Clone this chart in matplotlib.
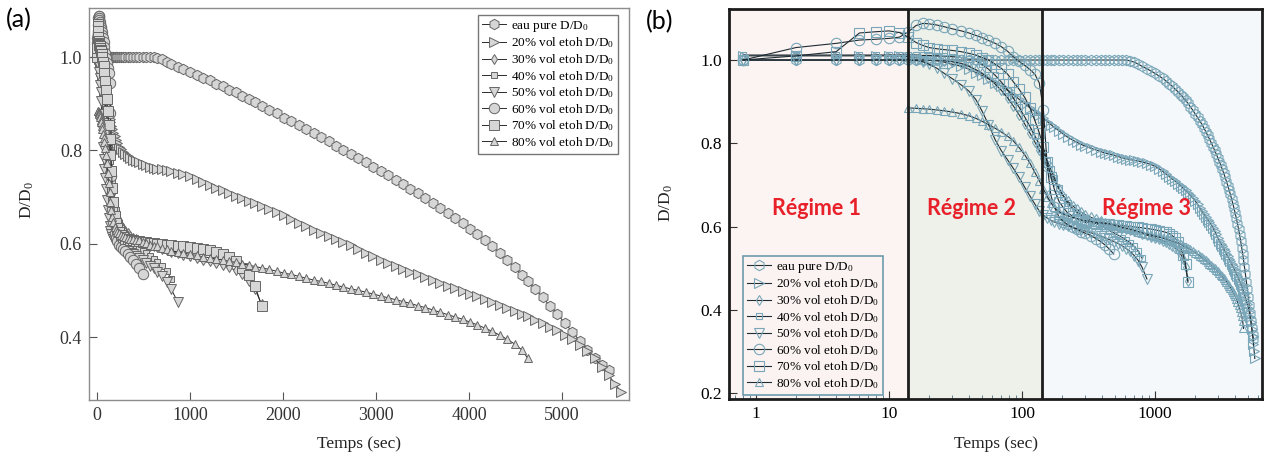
import numpy as np
import matplotlib
matplotlib.use("Agg")
import matplotlib.pyplot as plt
from matplotlib.ticker import FixedLocator, FixedFormatter, NullFormatter, FormatStrFormatter

plt.rcParams['font.family'] = ['Liberation Serif', 'DejaVu Serif']
plt.rcParams['mathtext.fontset'] = 'custom'
plt.rcParams['mathtext.rm'] = 'Liberation Serif'
plt.rcParams['mathtext.it'] = 'Liberation Serif:italic'

nan = np.nan

# ---------------- data (time in s, D/D0) ----------------
time_s = [0.8, 2, 4, 6, 8, 10, 12, 14, 16, 18, 20, 23, 26, 30, 35, 40, 45, 50, 56, 63,
          70, 78, 86, 95, 105, 115, 125, 135, 145, 155, 165, 175, 190, 205, 220, 240, 260, 280, 300, 330,
          360, 390, 420, 450, 490, 530, 570, 610, 650, 700, 750, 800, 870,
          930, 1000, 1070, 1140, 1210, 1280, 1350, 1420, 1490, 1560,
          1630, 1700, 1770, 1850, 1930, 2010, 2090, 2170, 2250, 2330,
          2410, 2490, 2570, 2650, 2730, 2810, 2890, 2970, 3050, 3130,
          3210, 3290, 3370, 3450, 3530, 3610, 3690, 3770, 3850, 3930,
          4010, 4090, 4170, 4250, 4330, 4410, 4490, 4570, 4630, 4710,
          4790, 4870, 4950, 5030, 5110, 5190, 5270, 5350, 5430, 5500,
          5570, 5630]

eau_pure = [1.0, 1.0, 1.0, 1.0, 1.0, 1.0, 1.0, 1.0, 1.0, 1.0, 1.0, 1.0, 1.0, 1.0, 1.0, 1.0, 1.0, 1.0, 1.0, 1.0,
            1.0, 1.0, 1.0, 1.0, 1.0, 1.0, 1.0, 1.0, 1.0, 1.0, 1.0, 1.0, 1.0, 1.0, 1.0, 1.0, 1.0, 1.0, 1.0, 1.0,
            1.0, 1.0, 1.0, 1.0, 1.0, 1.0, 1.0, 1.0, 0.998, 0.995, 0.99, 0.985, 0.979,
            0.974, 0.968, 0.962, 0.956, 0.95, 0.943, 0.937, 0.93, 0.924, 0.917,
            0.91, 0.903, 0.896, 0.887, 0.879, 0.87, 0.862, 0.854, 0.846, 0.837,
            0.828, 0.819, 0.81, 0.801, 0.792, 0.783, 0.774, 0.765, 0.756, 0.747,
            0.737, 0.728, 0.718, 0.708, 0.698, 0.688, 0.677, 0.666, 0.655, 0.644,
            0.632, 0.62, 0.607, 0.594, 0.58, 0.565, 0.549, 0.533, 0.52, 0.503,
            0.485, 0.467, 0.449, 0.43, 0.411, 0.392, 0.373, 0.356, 0.34, 0.33]

etoh20 = [1.01, 1.01, 1.01, 1.01, 1.01, 1.01, 1.01, 1.008, 1.005, 1.003, 1.0, 0.998, 0.995, 0.99, 0.985, 0.978, 0.97, 0.963, 0.955, 0.946,
          0.937, 0.927, 0.917, 0.906, 0.895, 0.885, 0.876, 0.868, 0.86, 0.852, 0.845, 0.838, 0.83, 0.822, 0.815, 0.808, 0.802, 0.797, 0.793, 0.788,
          0.784, 0.78, 0.777, 0.774, 0.771, 0.768, 0.765, 0.763, 0.761, 0.759, 0.757, 0.755, 0.752,
          0.749, 0.745, 0.739, 0.733, 0.726, 0.72, 0.714, 0.709, 0.703, 0.698,
          0.692, 0.687, 0.681, 0.675, 0.668, 0.661, 0.653, 0.645, 0.637, 0.63,
          0.623, 0.616, 0.61, 0.604, 0.597, 0.589, 0.581, 0.573, 0.566, 0.559,
          0.552, 0.546, 0.54, 0.534, 0.528, 0.522, 0.516, 0.51, 0.505, 0.499,
          0.493, 0.487, 0.481, 0.475, 0.469, 0.462, 0.456, 0.449, 0.444, 0.437,
          0.43, 0.422, 0.414, 0.405, 0.395, 0.383, 0.37, 0.354, 0.336, 0.318,
          0.3, 0.283]

etoh30 = [1.0, 1.0, 1.0, 1.0, 1.0, 1.0, 1.0, 1.0, 1.0, 1.0, 1.0, 1.0, 0.998, 0.996, 0.992, 0.985, 0.977, 0.968, 0.956, 0.942,
          0.927, 0.909, 0.89, 0.869, 0.846, 0.824, 0.803, 0.783, 0.764, 0.745, 0.727, 0.71, 0.69, 0.674, 0.661, 0.65, 0.641, 0.634, 0.628, 0.622,
          0.617, 0.613, 0.609, 0.606, 0.602, 0.599, 0.596, 0.594, 0.592, 0.589, 0.586, 0.583, 0.579,
          0.576, 0.573, 0.57, 0.566, 0.562, 0.558, 0.554, 0.549, 0.543, 0.534,
          0.521, 0.502, 0.47]

etoh40 = [1.012, 1.012, 1.012, 1.012, 1.012, 1.012, 1.012, 1.012, 1.012, 1.011, 1.011, 1.01, 1.01, 1.008, 1.006, 1.003, 0.998, 0.99, 0.978, 0.963,
          0.947, 0.929, 0.909, 0.887, 0.863, 0.84, 0.818, 0.797, 0.777, 0.757, 0.737, 0.717, 0.692, 0.672, 0.657, 0.644, 0.634, 0.627, 0.621, 0.614,
          0.608, 0.602, 0.597, 0.591, 0.585, 0.579, 0.573, 0.567, 0.561, 0.552, 0.541, 0.524]

etoh50 = [1.0, 1.0, 1.0, 1.0, 1.0, 1.0, 1.0, 1.0, 0.999, 0.996, 0.99, 0.98, 0.968, 0.955, 0.94, 0.925, 0.905, 0.878, 0.845, 0.808,
          0.782, 0.76, 0.74, 0.718, 0.694, 0.673, 0.654, 0.637, 0.627, 0.62, 0.615, 0.611, 0.607, 0.604, 0.601, 0.598, 0.595, 0.592, 0.589, 0.585,
          0.581, 0.577, 0.573, 0.569, 0.564, 0.559, 0.553, 0.547, 0.54, 0.53, 0.518, 0.502, 0.474]

etoh60 = [1.0, 1.03, 1.04, 1.048, 1.05, 1.052, 1.055, 1.068, 1.083, 1.088, 1.087, 1.084, 1.08, 1.075, 1.07, 1.065, 1.059, 1.054, 1.047, 1.04,
          1.032, 1.021, 1.008, 0.997, 0.987, 0.977, 0.966, 0.945, 0.88, 0.745, 0.675, 0.647, 0.623, 0.612, 0.605, 0.598, 0.593, 0.588, 0.584, 0.578,
          0.571, 0.564, 0.556, 0.547, 0.534]

etoh70 = [1.0, 1.01, 1.02, 1.065, 1.068, 1.07, 1.066, 1.055, 1.042, 1.035, 1.03, 1.027, 1.025, 1.023, 1.02, 1.016, 1.012, 1.006, 1.0, 0.99,
          0.98, 0.966, 0.948, 0.93, 0.91, 0.885, 0.855, 0.825, 0.79, 0.755, 0.72, 0.69, 0.66, 0.645, 0.633, 0.625, 0.619, 0.614, 0.61, 0.609,
          0.608, 0.607, 0.606, 0.605, 0.604, 0.603, 0.602, 0.601, 0.6, 0.599, 0.598, 0.597, 0.595,
          0.594, 0.592, 0.59, 0.588, 0.586, 0.583, 0.578, 0.572, 0.562, 0.548,
          0.532, 0.51, 0.466]

etoh80 = [nan, nan, nan, nan, nan, nan, nan, 0.885, 0.884, 0.883, 0.882, 0.88, 0.878, 0.875, 0.871, 0.866, 0.86, 0.853, 0.845, 0.836,
          0.827, 0.817, 0.806, 0.79, 0.772, 0.752, 0.73, 0.71, 0.69, 0.672, 0.657, 0.646, 0.636, 0.63, 0.626, 0.622, 0.619, 0.616, 0.614, 0.612,
          0.61, 0.609, 0.608, 0.607, 0.604, 0.601, 0.598, 0.596, 0.594, 0.591, 0.588, 0.585, 0.582,
          0.58, 0.577, 0.575, 0.572, 0.57, 0.567, 0.565, 0.562, 0.56, 0.557,
          0.554, 0.551, 0.548, 0.545, 0.541, 0.537, 0.534, 0.53, 0.526, 0.522,
          0.519, 0.515, 0.511, 0.507, 0.503, 0.5, 0.496, 0.492, 0.488, 0.484,
          0.48, 0.476, 0.472, 0.467, 0.463, 0.458, 0.453, 0.448, 0.443, 0.438,
          0.432, 0.426, 0.419, 0.412, 0.404, 0.395, 0.385, 0.372, 0.355]

labels = ["eau pure D/D$_0$", "20% vol etoh D/D$_0$", "30% vol etoh D/D$_0$", "40% vol etoh D/D$_0$",
          "50% vol etoh D/D$_0$", "60% vol etoh D/D$_0$", "70% vol etoh D/D$_0$", "80% vol etoh D/D$_0$"]
series = [eau_pure, etoh20, etoh30, etoh40, etoh50, etoh60, etoh70, etoh80]
markers = ['h', '>', 'd', 's', 'v', 'o', 's', '^']
msizes = [7.5, 6.5, 5.5, 4, 7, 7.5, 7, 5.5]

regime_edges = [13.9, 141]
regime_names = ["Régime 1", "Régime 2", "Régime 3"]

# ---------------- figure ----------------
W, H = 1268, 459
fig = plt.figure(figsize=(W / 100, H / 100), dpi=100)


def px_axes(l, t, r, b):
    return fig.add_axes([l / W, 1 - b / H, (r - l) / W, (b - t) / H])


axA = px_axes(89, 8, 629, 400)
axB = px_axes(729, 9, 1262, 399)

# ---- panel (a) ----
for vals, lab, m, ms in zip(series, labels, markers, msizes):
    t = time_s[:len(vals)]
    axA.plot(t, vals, marker=m, ms=ms, color='#2a2a2a', lw=0.7, mfc='#d6d6d6',
             mec='#666666', mew=0.7, label=lab)
axA.set_xlim(-86, 5720)
axA.set_ylim(0.265, 1.105)
axA.set_xticks([0, 1000, 2000, 3000, 4000, 5000])
axA.set_yticks([0.4, 0.6, 0.8, 1.0])
axA.yaxis.set_major_formatter(FormatStrFormatter('%.1f'))
axA.tick_params(direction='in', length=6, labelsize=13, color='#555555', labelcolor='#333333', pad=5)
for s in axA.spines.values():
    s.set_color('#8c8c8c')
    s.set_linewidth(1.0)

legA = axA.legend(loc='upper right', bbox_to_anchor=(618 / W, 1 - 15 / H), bbox_transform=fig.transFigure,
                  borderaxespad=0, fontsize=9.5, labelspacing=0.13, borderpad=0.3, handlelength=1.8,
                  handletextpad=0.4, frameon=True, fancybox=False, edgecolor='#777777', facecolor='white',
                  framealpha=1)
legA.get_frame().set_linewidth(1.0)

# ---- panel (b) ----
xl = (0.627, 6380)
bg = ['#fcf4f2', '#eef0ea', '#f4f8fa']
bounds = [xl[0]] + regime_edges + [xl[1]]
for i in range(3):
    axB.axvspan(bounds[i], bounds[i + 1], color=bg[i], zorder=0, lw=0)
for xe in regime_edges:
    axB.axvline(xe, color='#1c1c1c', lw=2.0, zorder=5)

for vals, lab, m, ms in zip(series, labels, markers, msizes):
    t = time_s[:len(vals)]
    axB.plot(t, vals, marker=m, ms=ms, color='#1e2c33', lw=0.8, mfc='none',
             mec='#79a6b8', mew=0.8, label=lab, zorder=3)
axB.set_xscale('log')
axB.set_xlim(*xl)
axB.set_ylim(0.1856, 1.1226)
axB.xaxis.set_major_locator(FixedLocator([1, 10, 100, 1000]))
axB.xaxis.set_major_formatter(FixedFormatter(['1', '10', '100', '1000']))
axB.xaxis.set_minor_locator(FixedLocator([k * d for d in [0.1, 1, 10, 100, 1000] for k in range(2, 10)]))
axB.xaxis.set_minor_formatter(NullFormatter())
axB.set_yticks([0.2, 0.4, 0.6, 0.8, 1.0])
axB.yaxis.set_major_formatter(FormatStrFormatter('%.1f'))
axB.tick_params(which='major', direction='in', length=6, labelsize=12.5, color='#333333', pad=5)
axB.tick_params(which='minor', direction='in', length=3, color='#4a6f80')
for s in axB.spines.values():
    s.set_color('#1c1c1c')
    s.set_linewidth(2.0)
    s.set_zorder(6)

reg_x = [2.83, 42.1, 871]
for x, name in zip(reg_x, regime_names):
    axB.text(x, 0.644, name, color='#e8202a', fontsize=15.5, fontweight='bold', family=['Lato', 'DejaVu Sans'],
             ha='center', va='center', zorder=7)

legB = axB.legend(loc='upper left', bbox_to_anchor=(743 / W, 1 - 256 / H), bbox_transform=fig.transFigure,
                  borderaxespad=0, fontsize=9.5, labelspacing=0.13, borderpad=0.3, handlelength=1.8,
                  handletextpad=0.4, frameon=True, fancybox=False, edgecolor='#6d9bae', facecolor='#fbf3f1',
                  framealpha=1)
legB.get_frame().set_linewidth(1.2)
legB.set_zorder(8)

# ---- labels ----
for (x, y) in [(359, 444), (996, 444)]:
    fig.text(x / W, 1 - y / H, 'Temps (sec)', ha='center', va='center', fontsize=12.5, color='#222222')
for (x, y) in [(27, 200), (666, 203)]:
    fig.text(x / W, 1 - y / H, 'D/D$_0$', ha='center', va='center', fontsize=12.5, rotation=90, color='#222222')
fig.text(6 / W, 1 - 20 / H, '(a)', fontsize=18, va='center', ha='left', family=['Lato', 'DejaVu Sans'])
fig.text(646 / W, 1 - 22 / H, '(b)', fontsize=18, va='center', ha='left', family=['Lato', 'DejaVu Sans'])

fig.savefig('out.png', dpi=100)
